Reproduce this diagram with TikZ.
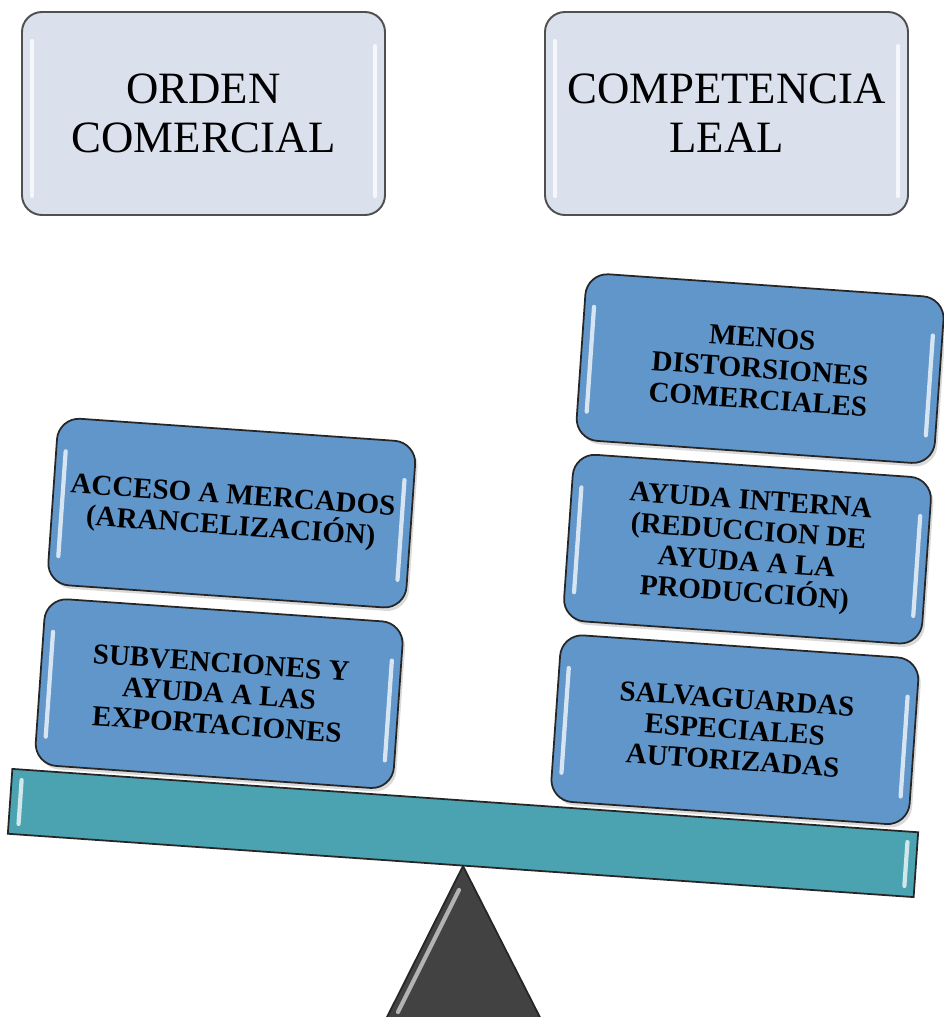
\documentclass[tikz,border=0pt]{standalone}
\usepackage{fontspec}
\setmainfont{Liberation Serif}
\usepackage{tikz}
\usetikzlibrary{shadows}
\usepackage{xcolor}
\definecolor{headgrey}{RGB}{218,224,236}
\definecolor{edgegrey}{RGB}{80,80,80}
\definecolor{panblue}{RGB}{97,150,203}
\definecolor{beamteal}{RGB}{75,163,178}
\definecolor{fulcrumgrey}{RGB}{66,66,66}
\tikzstyle{headbox} = [draw=edgegrey, line width=1.1pt, fill=headgrey, rounded corners=4mm, minimum width=72.6mm, minimum height=40.6mm, align=center, font=\fontsize{25.5}{28}\selectfont]
\tikzstyle{weightbox} = [draw=black!85, line width=1pt, fill=panblue, rounded corners=4.4mm, minimum width=71.8mm, minimum height=33.4mm, align=center, transform shape, font=\bfseries\fontsize{16.5}{17.6}\selectfont, drop shadow={opacity=0.3, shadow xshift=0.5mm, shadow yshift=-0.7mm}]
\tikzstyle{beambar} = [draw=black!85, line width=1pt, fill=beamteal, minimum width=181.6mm, minimum height=13mm, inner sep=0pt, transform shape]
\tikzstyle{fulcrum} = [draw=black!85, line width=1pt, fill=fulcrumgrey]
\tikzstyle{glint} = [white, line width=2.4pt, line cap=round, opacity=0.75]

\begin{document}
\begin{tikzpicture}[x=0.2mm, y=-0.2mm]
\useasboundingbox (0,0) rectangle (944,1017);

% header boxes
\node[headbox] (orden) at (203.5,113.5) {ORDEN\\COMERCIAL};
\node[headbox] (leal) at (726.5,113.5) {COMPETENCIA\\LEAL};
\foreach \b in {orden,leal} {
  \draw[glint] ([xshift=2.2mm,yshift=-6mm]\b.north west) -- ([xshift=2.2mm,yshift=4mm]\b.south west);
  \draw[glint] ([xshift=-2.2mm,yshift=-7mm]\b.north east) -- ([xshift=-2.2mm,yshift=4mm]\b.south east);
}

% fulcrum
\coordinate (apex) at (463,866);
\draw[fulcrum] (apex) -- (549,1035) -- (378,1035) -- cycle;
\draw[glint, opacity=0.6] (459,890) -- (398,1012);

% beam and the two pans
\begin{scope}[shift={(463,833)}, rotate=-4]
  \node[beambar] (beam) at (0,0) {};
  \draw[glint] (-444,-22) -- (-444,22);
  \draw[glint] (444,-22) -- (444,22);

  % left pan
  \node[weightbox] (subv) at (-253,-122) {SUBVENCIONES Y\\AYUDA A LAS\\EXPORTACIONES};
  \node[weightbox] (acceso) at (-253,-303) {ACCESO A MERCADOS\\(ARANCELIZACIÓN)};

  % right pan
  \node[weightbox] (salva) at (264,-122) {SALVAGUARDAS\\ESPECIALES\\AUTORIZADAS};
  \node[weightbox] (ayuda) at (264,-303) {AYUDA INTERNA\\(REDUCCION DE\\AYUDA A LA\\PRODUCCIÓN)};
  \node[weightbox] (menos) at (264,-484) {MENOS\\DISTORSIONES\\COMERCIALES};

  % glossy edges of the pans
  \foreach \cx/\cy in {-253/-122,-253/-303,264/-122,264/-303,264/-484} {
    \draw[glint] (\cx-170,\cy-50) -- (\cx-170,\cy+55);
    \draw[glint] (\cx+170,\cy-45) -- (\cx+170,\cy+55);
  }
\end{scope}
\end{tikzpicture}
\end{document}
